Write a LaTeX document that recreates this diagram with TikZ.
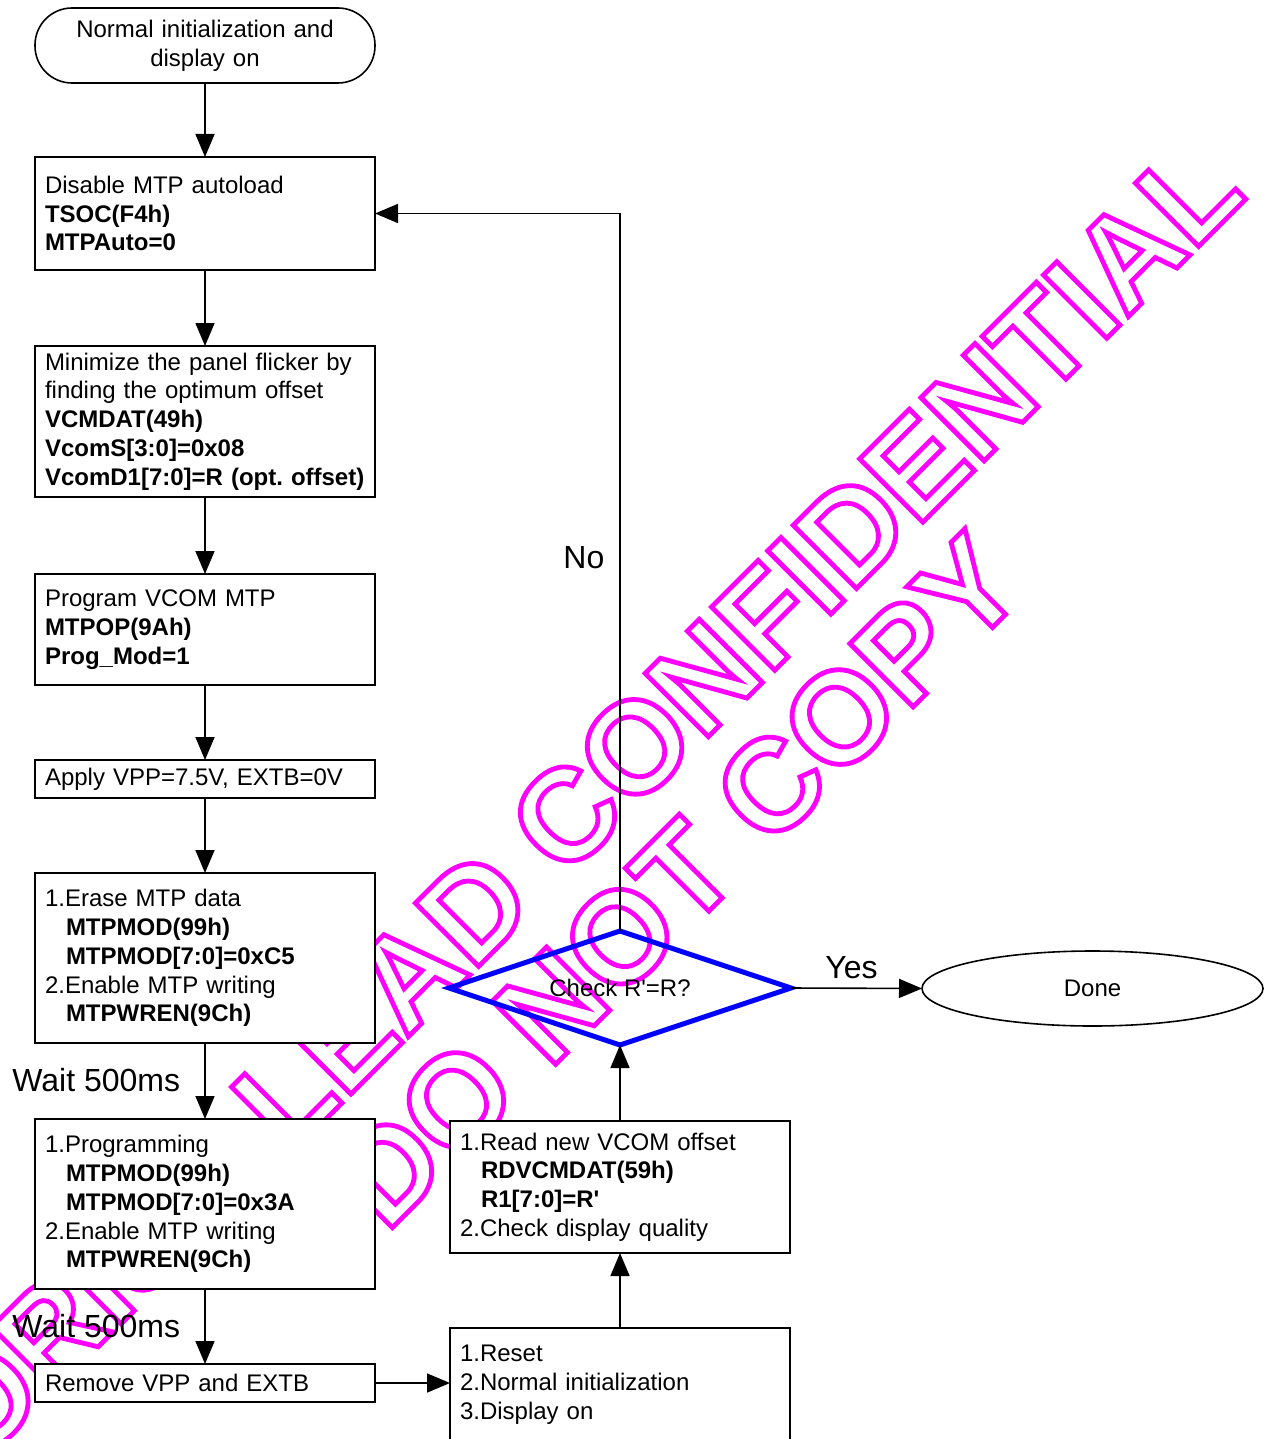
\documentclass[tikz,border=0pt]{standalone}
\usepackage{fontspec}
\setmainfont{Liberation Sans}[Ligatures=TeXOff]
\usetikzlibrary{shapes.geometric,arrows.meta}
\definecolor{wm}{RGB}{255,0,255}
\definecolor{dblue}{RGB}{0,0,255}
\newcommand{\bodyfont}{\fontsize{12}{14.4}\selectfont}
\newcommand{\ind}{\hspace*{10.5pt}}
\newcommand{\outlineon}{\special{pdf:literal direct 1 Tr 2.4 w}}
\newcommand{\outlineoff}{\special{pdf:literal direct 0 Tr}}
\frenchspacing
\begin{document}
\begin{tikzpicture}[x=0.5pt,y=-0.5pt,
  box/.style={draw, fill=white, line width=0.8pt, text width=160pt, inner xsep=5pt,
    inner ysep=0pt, align=left, font=\bodyfont, outer sep=0pt},
  arr/.style={line width=0.8pt, -{Triangle[length=11.5pt,width=9.5pt]}},
  lbl/.style={font=\fontsize{16}{19}\selectfont, inner sep=0pt, anchor=west},
  wmtext/.style={rotate=45, anchor=base east, inner sep=0pt, text=wm,
    font=\fontsize{65}{65}\selectfont\bfseries}]
\useasboundingbox (0,0) rectangle (1264,1439);
\clip (0,0) rectangle (1264,1439);
% watermark
\node[wmtext] (wm1) at (1249,196) {\outlineon ORISE LEAD CONFIDENTIAL\outlineoff};
\node[wmtext] (wm2) at (1030,590) {\outlineon DO NOT COPY\outlineoff};
% boxes
\node[box, rounded corners=18.5pt, align=center, minimum height=37.5pt] (start) at (205,45.5)
  {Normal initialization and\\display on};
\node[box, minimum height=56.5pt] (b1) at (205,213.5)
  {Disable MTP autoload\\\textbf{TSOC(F4h)}\\\textbf{MTPAuto=0}};
\node[box, minimum height=75.5pt] (b2) at (205,421.5)
  {\mbox{Minimize the panel flicker by}\\finding the optimum offset\\\textbf{VCMDAT(49h)}\\\textbf{VcomS[3:0]=0x08}\\\mbox{\textbf{VcomD1[7:0]=R (opt. offset)}}};
\node[box, minimum height=55.5pt] (b3) at (205,629.5)
  {Program VCOM MTP\\\textbf{MTPOP(9Ah)}\\\textbf{Prog\_Mod=1}};
\node[box, minimum height=19pt] (b4) at (205,779) {Apply VPP=7.5V, EXTB=0V};
\node[box, minimum height=85pt] (b5) at (205,958)
  {1.Erase MTP data\\\ind\textbf{MTPMOD(99h)}\\\ind\textbf{MTPMOD[7:0]=0xC5}\\2.Enable MTP writing\\\ind\textbf{MTPWREN(9Ch)}};
\node[box, minimum height=85pt] (b6) at (205,1204)
  {1.Programming\\\ind\textbf{MTPMOD(99h)}\\\ind\textbf{MTPMOD[7:0]=0x3A}\\2.Enable MTP writing\\\ind\textbf{MTPWREN(9Ch)}};
\node[box, minimum height=19pt] (b7) at (205,1383) {Remove VPP and EXTB};
\node[box, minimum height=57pt] (b8) at (620,1385)
  {1.Reset\\2.Normal initialization\\3.Display on};
\node[box, minimum height=66pt] (b9) at (620,1187)
  {1.Read new VCOM offset\\\ind\textbf{RDVCMDAT(59h)}\\\ind\textbf{R1[7:0]=R'}\\2.Check display quality};
\node[diamond, draw=dblue, line width=2.5pt, aspect=3, minimum width=171pt, minimum height=57pt,
  inner sep=0pt, outer sep=0pt, font=\bodyfont] (dia) at (620,988) {Check R'=R?};
\node[ellipse, draw, fill=white, line width=0.8pt, minimum width=170.5pt, minimum height=37.5pt,
  inner sep=0pt, outer sep=0pt, font=\bodyfont] (done) at (1092.5,988.5) {Done};
% connectors
\draw[arr] (start.south) -- (b1.north);
\draw[arr] (b1.south) -- (b2.north);
\draw[arr] (b2.south) -- (b3.north);
\draw[arr] (b3.south) -- (b4.north);
\draw[arr] (b4.south) -- (b5.north);
\draw[arr] (b5.south) -- (b6.north);
\draw[arr] (b6.south) -- (b7.north);
\draw[arr] (b7.east) -- (b7.east -| b8.west);
\draw[arr] (b8.north) -- (b9.south);
\draw[arr] (b9.north) -- (dia.south);
\draw[arr] (dia.east) -- (done.west);
\draw[arr] (dia.north) |- (b1.east);
% labels
\node[lbl] (w1) at (12,1080) {Wait 500ms};
\node[lbl] (w2) at (12,1326) {Wait 500ms};
\node[lbl] (no) at (563,558) {No};
\node[lbl] (yes) at (825,968) {Yes};
\end{tikzpicture}
\end{document}
